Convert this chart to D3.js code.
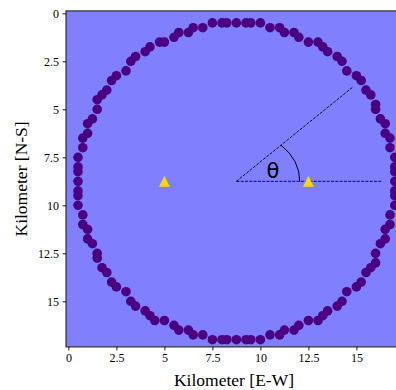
<!DOCTYPE html>
<html>
<head>
<meta charset="utf-8">
<script src="https://cdn.jsdelivr.net/npm/d3@7"></script>
<style>
  body { margin: 0; background: #fff; }
  .axis-label { font-family: "Liberation Serif", "Times New Roman", serif; font-size: 17.5px; fill: #000; }
  svg .tick text { font-family: "Liberation Serif", "Times New Roman", serif !important; font-size: 12px !important; }
</style>
</head>
<body>
<div class="panel"></div>
<script>
// receiver positions, km (0.25 km steps)
const stationX = [
  0.5, 0.5, 0.5, 0.5, 0.75, 0.75, 1.0, 1.0, 1.25, 1.5, 1.5, 1.75, 2.0, 2.25, 2.5,
  3.0, 3.25, 3.5, 4.0, 4.25, 4.75, 5.0, 5.5, 5.75, 6.25, 6.5, 7.0, 7.5, 8.0, 8.25,
  8.75, 9.25, 9.5, 10.0, 10.5, 11.0, 11.25, 11.75, 12.0, 12.5, 13.0, 13.25, 13.5, 14.0, 14.25,
  14.5, 15.0, 15.25, 15.5, 15.75, 16.0, 16.0, 16.25, 16.5, 16.5, 16.75, 16.75, 17.0, 17.0, 17.0,
  17.0, 17.0, 17.0, 17.0, 16.75, 16.75, 16.5, 16.5, 16.25, 16.0, 16.0, 15.75, 15.5, 15.25, 15.0,
  14.5, 14.25, 14.0, 13.5, 13.25, 13.0, 12.5, 12.0, 11.75, 11.25, 11.0, 10.5, 10.0, 9.5, 9.25,
  8.75, 8.25, 8.0, 7.5, 7.0, 6.5, 6.25, 5.75, 5.5, 5.0, 4.5, 4.25, 4.0, 3.5, 3.25,
  3.0, 2.5, 2.25, 2.0, 1.75, 1.5, 1.5, 1.25, 1.0, 1.0, 0.75, 0.75, 0.5, 0.5, 0.5
];
const stationY = [
  8.75, 8.25, 8.0, 7.5, 7.0, 6.5, 6.25, 5.75, 5.5, 5.0, 4.5, 4.25, 4.0, 3.5, 3.25,
  3.0, 2.5, 2.25, 2.0, 1.75, 1.5, 1.5, 1.25, 1.0, 1.0, 0.75, 0.75, 0.5, 0.5, 0.5,
  0.5, 0.5, 0.5, 0.5, 0.75, 0.75, 1.0, 1.0, 1.25, 1.5, 1.5, 1.75, 2.0, 2.25, 2.5,
  3.0, 3.25, 3.5, 4.0, 4.25, 4.75, 5.0, 5.5, 5.75, 6.25, 6.5, 7.0, 7.5, 8.0, 8.25,
  8.75, 9.25, 9.5, 10.0, 10.5, 11.0, 11.25, 11.75, 12.0, 12.5, 13.0, 13.25, 13.5, 14.0, 14.25,
  14.5, 15.0, 15.25, 15.5, 15.75, 16.0, 16.0, 16.25, 16.5, 16.5, 16.75, 16.75, 17.0, 17.0, 17.0,
  17.0, 17.0, 17.0, 17.0, 16.75, 16.75, 16.5, 16.5, 16.25, 16.0, 16.0, 15.75, 15.5, 15.25, 15.0,
  14.5, 14.25, 14.0, 13.5, 13.25, 12.75, 12.5, 12.0, 11.75, 11.25, 11.0, 10.5, 10.0, 9.5, 9.25
];

// sources
const sourceX = [5.0, 12.5];
const sourceY = [8.75, 8.75];

// angle construction
const vertex = [8.75, 8.75];
const rayEnds = [[16.3, 8.75], [14.8, 3.85]];
const arcRadii = [3.3, 2.65];
const thetaLabelPos = [10.65, 8.58];

const xTicks = [0, 2.5, 5, 7.5, 10, 12.5, 15];
const yTicks = [0, 2.5, 5, 7.5, 10, 12.5, 15];
const tickLabels = ["0", "2.5", "5", "7.5", "10", "12.5", "15"];
const domain = [-0.125, 17.375];

const width = 396;
const height = 390;
const plotLeft = 66, plotTop = 10.9, side = 336;

const svg = d3.select(".panel")
    .append("svg")
    .attr("width", width)
    .attr("height", height)
    .attr("viewBox", `0 0 ${width} ${height}`);

const x = d3.scaleLinear().domain(domain).range([plotLeft, plotLeft + side]);
const y = d3.scaleLinear().domain(domain).range([plotTop, plotTop + side]);

svg.append("rect")
    .attr("x", x(domain[0]))
    .attr("y", y(domain[0]))
    .attr("width", x(domain[1]) - x(domain[0]))
    .attr("height", y(domain[1]) - y(domain[0]))
    .attr("fill", "#8080ff");

// dashed rays
svg.selectAll(".ray")
    .data(rayEnds)
    .enter()
    .append("line")
    .attr("class", "ray")
    .attr("x1", x(vertex[0]))
    .attr("y1", y(vertex[1]))
    .attr("x2", d => x(d[0]))
    .attr("y2", d => y(d[1]))
    .attr("stroke", "#000")
    .attr("stroke-width", 0.9)
    .attr("stroke-dasharray", "3,1.3");

// angle arc (elliptical, as in the original)
const a0 = Math.atan2(vertex[1] - rayEnds[1][1], rayEnds[1][0] - vertex[0]);
const rx = x(vertex[0] + arcRadii[0]) - x(vertex[0]);
const ry = y(vertex[1] + arcRadii[1]) - y(vertex[1]);
const t0 = Math.atan2(Math.tan(a0) * rx / ry, 1);
const cx = x(vertex[0]), cy = y(vertex[1]);
svg.append("path")
    .attr("d", `M${cx + rx * Math.cos(t0)},${cy - ry * Math.sin(t0)} A${rx},${ry} 0 0 1 ${cx + rx},${cy}`)
    .attr("fill", "none")
    .attr("stroke", "#000")
    .attr("stroke-width", 1);

svg.append("text")
    .attr("x", x(thetaLabelPos[0]))
    .attr("y", y(thetaLabelPos[1]))
    .attr("text-anchor", "middle")
    .attr("font-family", "DejaVu Sans, sans-serif")
    .attr("font-size", 21)
    .text("θ");

// stations
svg.selectAll(".station")
    .data(stationX.map((d, i) => [d, stationY[i]]))
    .enter()
    .append("circle")
    .attr("class", "station")
    .attr("cx", d => x(d[0]))
    .attr("cy", d => y(d[1]))
    .attr("r", 4.8)
    .attr("fill", "#4b0082");

// sources
svg.selectAll(".source")
    .data(sourceX.map((d, i) => [d, sourceY[i]]))
    .enter()
    .append("path")
    .attr("class", "source")
    .attr("transform", d => `translate(${x(d[0])},${y(d[1])})`)
    .attr("d", "M0,-5.5L5.4,5.5L-5.4,5.5Z")
    .attr("fill", "#ffd700");

// spines
svg.append("rect")
    .attr("x", x(domain[0]))
    .attr("y", y(domain[0]))
    .attr("width", x(domain[1]) - x(domain[0]))
    .attr("height", y(domain[1]) - y(domain[0]))
    .attr("fill", "none")
    .attr("stroke", "#222")
    .attr("stroke-width", 1.1);

const xAxis = d3.axisBottom(x)
    .tickValues(xTicks)
    .tickFormat((d, i) => tickLabels[i])
    .tickSize(3.5)
    .tickPadding(3.5);
const yAxis = d3.axisLeft(y)
    .tickValues(yTicks)
    .tickFormat((d, i) => tickLabels[i])
    .tickSize(3.5)
    .tickPadding(3.5);

const gx = svg.append("g")
    .attr("transform", `translate(0,${y(domain[1])})`)
    .call(xAxis);
const gy = svg.append("g")
    .attr("transform", `translate(${x(domain[0])},0)`)
    .call(yAxis);
[gx, gy].forEach(g => {
  g.attr("font-family", "'Liberation Serif', 'Times New Roman', serif")
   .attr("font-size", 12);
  g.select(".domain").remove();
  g.selectAll(".tick line").attr("stroke", "#000").attr("stroke-width", 0.9);
  g.selectAll(".tick text").attr("fill", "#000");
});

svg.append("text")
    .attr("class", "axis-label")
    .attr("x", x(domain[0]) + 168)
    .attr("y", 386)
    .attr("text-anchor", "middle")
    .text("Kilometer [E-W]");

svg.append("text")
    .attr("class", "axis-label")
    .attr("transform", `translate(27,${plotTop + side / 2}) rotate(-90)`)
    .attr("text-anchor", "middle")
    .text("Kilometer [N-S]");
</script>
</body>
</html>
